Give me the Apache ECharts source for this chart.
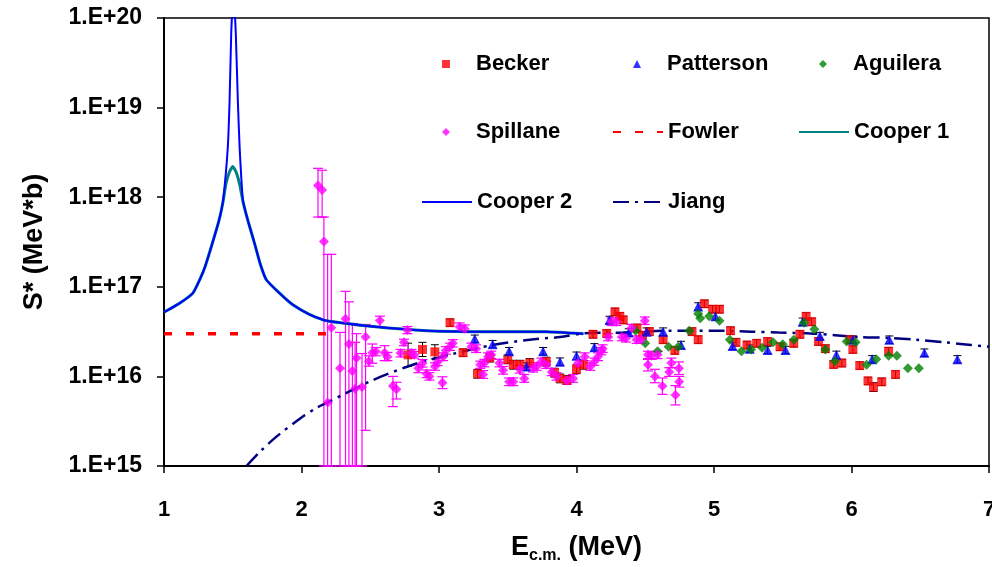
<!DOCTYPE html>
<html><head><meta charset="utf-8">
<script src="https://cdn.jsdelivr.net/npm/echarts@6/dist/echarts.min.js"></script>
<style>html,body{margin:0;padding:0;background:#fff}#c{width:992px;height:567px}</style>
</head><body><div id="c"></div>
<script>
// ---------- data ----------
const xTickValues = [1, 2, 3, 4, 5, 6, 7];
const yDecades = [1e15, 1e16, 1e17, 1e18, 1e19, 1e20];

// [E, S*, error factor]
const becker = [
 [2.775,1.74e16,1.35],[2.88,2.00e16,1.2],[2.97,1.88e16,1.2],[3.08,3.98e16,1.1],[3.175,1.84e16,1.1],
 [3.28,1.07e16,1.12],[3.37,1.62e16,1.12],[3.50,1.55e16,1.12],[3.54,1.35e16,1.12],[3.59,1.35e16,1.12],
 [3.66,1.41e16,1.12],[3.78,1.46e16,1.12],[3.84,1.10e16,1.12],[3.88,9.5e15,1.12],[3.93,9.1e15,1.12],
 [4.00,1.20e16,1.12],[4.05,1.35e16,1.12],[4.12,2.95e16,1.1],[4.22,3.02e16,1.1],[4.28,5.25e16,1.1],
 [4.315,4.68e16,1.1],[4.34,4.27e16,1.1],[4.44,3.47e16,1.1],[4.48,2.88e16,1.1],[4.53,3.16e16,1.1],
 [4.63,2.57e16,1.1],[4.715,1.95e16,1.1],[4.84,3.16e16,1.1],[4.885,2.57e16,1.1],[4.93,6.46e16,1.1],
 [4.99,5.62e16,1.1],[5.04,5.62e16,1.1],[5.12,3.24e16,1.1],[5.16,2.40e16,1.1],[5.24,2.24e16,1.1],
 [5.31,2.34e16,1.1],[5.39,2.45e16,1.1],[5.48,2.14e16,1.1],[5.58,2.34e16,1.1],[5.625,2.95e16,1.1],
 [5.67,4.68e16,1.1],[5.71,4.07e16,1.1],[5.76,2.45e16,1.1],[5.81,2.04e16,1.1],[5.87,1.36e16,1.1],
 [5.93,1.41e16,1.1],[5.99,2.57e16,1.1],[6.01,2.00e16,1.1],[6.06,1.32e16,1.1],[6.12,8.9e15,1.1],
 [6.16,7.6e15,1.12],[6.22,8.7e15,1.1],[6.27,1.91e16,1.1],[6.32,1.05e16,1.1]
];

const patterson = [
 [3.26,2.63e16,1.1],[3.39,2.29e16,1.1],[3.51,1.91e16,1.1],[3.636,1.29e16,1.1],[3.757,1.91e16,1.1],
 [3.88,1.46e16,1.1],[4.00,1.70e16,1.1],[4.13,2.11e16,1.1],[4.24,4.27e16,1.1],[4.38,3.09e16,1.1],
 [4.51,3.16e16,1.1],[4.63,3.16e16,1.1],[4.76,2.24e16,1.1],[4.885,6.03e16,1.1],[5.01,4.68e16,1.1],
 [5.135,2.19e16,1.1],[5.26,2.04e16,1.1],[5.39,1.97e16,1.1],[5.52,1.97e16,1.1],[5.645,4.07e16,1.1],
 [5.77,2.82e16,1.1],[5.89,1.74e16,1.1],[6.01,2.57e16,1.1],[6.15,1.55e16,1.1],[6.275,2.57e16,1.1],
 [6.53,1.84e16,1.1],[6.77,1.55e16,1.1]
];

const aguilera = [
 [4.43,3.24e16],[4.50,2.34e16],[4.59,1.91e16],[4.67,2.14e16],[4.74,2.14e16],[4.82,3.24e16],
 [4.885,5.01e16],[4.90,4.47e16],[4.965,4.68e16],[5.04,4.17e16],[5.115,2.57e16],[5.20,1.91e16],
 [5.27,2.00e16],[5.35,2.09e16],[5.43,2.40e16],[5.50,2.29e16],[5.58,2.57e16],[5.655,3.98e16],
 [5.73,3.35e16],[5.81,2.00e16],[5.88,1.48e16],[5.965,2.45e16],[6.03,2.40e16],[6.11,1.35e16],
 [6.18,1.55e16],[6.27,1.70e16],[6.33,1.70e16],[6.41,1.23e16],[6.49,1.23e16]
];

// [E, S*, lower, upper]  (lower = 1e15 means the bar runs off the bottom of the axis)
const spillane = [
 [2.12,1.35e18,6.0e17,2.1e18],[2.15,1.20e18,6.0e17,2.0e18],[2.163,3.2e17,1e15,6.0e17],
 [2.19,5.1e15,1e15,2.3e17],[2.217,3.5e16,1e15,2.3e17],[2.28,1.23e16,1e15,3.1e16],
 [2.32,4.4e16,1e15,8.9e16],[2.345,2.3e16,1e15,6.8e16],[2.37,1.15e16,1e15,3.9e16],
 [2.39,7.3e15,1e15,2.4e16],[2.40,1.6e16,1e15,3.0e16],[2.44,7.6e15,1e15,1.8e16],
 [2.466,2.75e16,2.5e15,3.8e16],[2.49,1.48e16,1.3e16,1.7e16],[2.515,1.84e16,1.4e16,2.3e16],
 [2.54,1.9e16,1.7e16,2.1e16],[2.57,4.2e16,3.6e16,4.7e16],[2.605,1.84e16,1.5e16,2.2e16],
 [2.625,1.66e16,1.5e16,1.85e16],[2.665,7.8e15,4.6e15,1.0e16],[2.69,7.2e15,5.6e15,8.6e15],
 [2.72,1.82e16,1.65e16,2.0e16],[2.745,2.4e16,2.2e16,2.6e16],[2.77,3.3e16,3.0e16,3.6e16],
 [2.80,1.82e16,1.65e16,2.0e16],[2.82,1.74e16,1.6e16,1.9e16],[2.85,1.23e16,1.1e16,1.35e16],
 [2.88,1.40e16,1.27e16,1.54e16],[2.91,1.07e16,9.7e15,1.18e16],[2.93,1.0e16,9.1e15,1.1e16],
 [2.97,1.29e16,1.17e16,1.42e16],[2.99,1.45e16,1.32e16,1.6e16],[3.025,8.5e15,7.3e15,9.9e15],
 [3.03,1.66e16,1.5e16,1.83e16],[3.05,1.95e16,1.77e16,2.15e16],[3.08,2.14e16,1.95e16,2.35e16],
 [3.10,2.34e16,2.13e16,2.57e16],[3.15,3.59e16,3.26e16,3.95e16],[3.187,3.4e16,3.1e16,3.75e16],
 [3.236,2.14e16,1.95e16,2.35e16],[3.27,2.04e16,1.85e16,2.25e16],[3.30,1.35e16,1.23e16,1.48e16],
 [3.32,1.05e16,9.5e15,1.16e16],[3.33,1.41e16,1.28e16,1.55e16],[3.357,1.66e16,1.5e16,1.83e16],
 [3.38,1.74e16,1.58e16,1.91e16],[3.44,1.41e16,1.28e16,1.55e16],[3.466,1.17e16,1.06e16,1.29e16],
 [3.51,8.7e15,7.9e15,9.6e15],[3.54,8.7e15,7.9e15,9.6e15],[3.587,1.2e16,1.09e16,1.32e16],
 [3.62,9.5e15,8.6e15,1.05e16],[3.684,1.23e16,1.12e16,1.35e16],[3.71,1.29e16,1.17e16,1.42e16],
 [3.745,1.46e16,1.33e16,1.6e16],[3.78,1.35e16,1.23e16,1.48e16],[3.82,1.12e16,1.02e16,1.23e16],
 [3.855,1.0e16,9.1e15,1.1e16],[3.93,9.0e15,8.2e15,9.9e15],[3.975,9.5e15,8.6e15,1.05e16],
 [4.01,1.40e16,1.27e16,1.54e16],[4.06,1.66e16,1.5e16,1.83e16],[4.10,1.29e16,1.17e16,1.42e16],
 [4.13,1.46e16,1.33e16,1.6e16],[4.157,1.66e16,1.5e16,1.83e16],[4.18,1.91e16,1.74e16,2.1e16],
 [4.19,2.04e16,1.85e16,2.25e16],[4.23,2.75e16,2.5e16,3.0e16],[4.255,4.07e16,3.7e16,4.5e16],
 [4.29,4.07e16,3.7e16,4.5e16],[4.33,2.75e16,2.5e16,3.0e16],[4.36,2.66e16,2.42e16,2.93e16],
 [4.40,3.47e16,3.15e16,3.8e16],[4.437,2.57e16,2.34e16,2.83e16],[4.47,2.57e16,2.34e16,2.83e16],
 [4.497,4.17e16,3.8e16,4.6e16],[4.52,1.74e16,1.58e16,1.91e16],[4.546,1.70e16,1.55e16,1.87e16],
 [4.52,1.35e16,1.15e16,1.55e16],[4.57,1.0e16,8.5e15,1.2e16],[4.59,1.74e16,1.58e16,1.91e16],
 [4.625,7.8e15,6.3e15,9.6e15],[4.674,1.12e16,1.0e16,1.25e16],[4.69,1.41e16,1.25e16,1.6e16],
 [4.72,6.2e15,4.8e15,7.9e15],[4.745,1.23e16,1.05e16,1.45e16],[4.747,8.7e15,7.6e15,1.0e16]
];

const fowler = [[1.0,3.0e16],[2.2,3.0e16]];

const cooper1 = [
 [1.00,5.2e16],[1.11,6.5e16],[1.21,8.5e16],[1.26,1.2e17],[1.30,1.7e17],[1.35,3.0e17],[1.40,5.5e17],
 [1.43,9.0e17],[1.45,1.4e18],[1.475,1.9e18],[1.50,2.2e18],[1.525,1.9e18],[1.55,1.4e18],[1.574,9.0e17],
 [1.61,5.5e17],[1.66,3.0e17],[1.70,1.8e17],[1.744,1.2e17],[1.84,8.5e16],[1.937,6.3e16],[2.06,4.9e16],
 [2.175,4.2e16],[2.52,3.6e16],[2.91,3.24e16],[3.39,3.16e16],[3.78,3.16e16],[4.05,3.0e16]
];

const cooper2 = [
 [1.00,5.2e16],[1.11,6.5e16],[1.21,8.5e16],[1.26,1.2e17],[1.30,1.7e17],[1.35,3.0e17],[1.40,5.5e17],
 [1.43,9.3e17],[1.464,3.6e18],[1.477,1.2e19],[1.489,6.8e19],[1.505,2.0e20],[1.522,6.8e19],
 [1.537,1.2e19],[1.55,3.6e18],[1.574,9.3e17],[1.61,5.5e17],[1.66,3.0e17],[1.70,1.8e17],
 [1.744,1.2e17],[1.84,8.5e16],[1.937,6.3e16],[2.06,4.9e16],[2.175,4.2e16],[2.52,3.6e16],
 [2.91,3.24e16],[3.39,3.16e16],[3.78,3.16e16],[4.05,3.0e16]
];

const jiang = [
 [1.60,1.0e15],[1.70,1.45e15],[1.82,2.14e15],[1.99,3.39e15],[2.10,4.37e15],[2.19,5.13e15],
 [2.52,9.1e15],[2.81,1.35e16],[3.10,1.78e16],[3.39,2.24e16],[3.66,2.57e16],[3.88,2.75e16],
 [4.05,3.02e16],[4.34,3.09e16],[4.68,3.24e16],[5.02,3.24e16],[5.27,3.16e16],[5.47,3.09e16],
 [5.70,3.02e16],[5.88,2.88e16],[6.06,2.75e16],[6.27,2.69e16],[6.47,2.57e16],[6.68,2.40e16],
 [6.87,2.24e16],[7.0,2.14e16]
];

// ---------- chart ----------
const FONT = '"Liberation Sans", Arial, sans-serif';
const chart = echarts.init(document.getElementById('c'), null, {renderer: 'canvas'});

function errorBars(color, capHalf, lw) {
  return function (params, api) {
    const x = api.value(0), lo = api.value(1), hi = api.value(2);
    const pHi = api.coord([x, hi]);
    const pLo = api.coord([x, lo]);
    const st = {stroke: color, lineWidth: lw};
    return {type: 'group', children: [
      {type: 'line', shape: {x1: pHi[0], y1: pHi[1], x2: pLo[0], y2: pLo[1]}, style: st},
      {type: 'line', shape: {x1: pHi[0] - capHalf, y1: pHi[1], x2: pHi[0] + capHalf, y2: pHi[1]}, style: st},
      {type: 'line', shape: {x1: pLo[0] - capHalf, y1: pLo[1], x2: pLo[0] + capHalf, y2: pLo[1]}, style: st}
    ]};
  };
}
const factorBars = arr => arr.map(d => [d[0], d[1] / d[2], d[1] * d[2]]);
const rangeBars = arr => arr.map(d => [d[0], d[2], d[3]]);

const ICON_SQUARE = 'path://M0,0L10,0L10,10L0,10Z';
const ICON_TRIANGLE = 'path://M5,0L10,10L0,10Z';
const ICON_DIAMOND = 'path://M5,0L10,5L5,10L0,5Z';
const HIDE_DOT = {color: 'rgba(0,0,0,0)', borderColor: 'rgba(0,0,0,0)', borderWidth: 0};

const legendBase = {
  padding: 0, itemWidth: 50, itemHeight: 8, itemGap: 0, selectedMode: false, symbolKeepAspect: true,
  textStyle: {fontFamily: FONT, fontWeight: 'bold', fontSize: 22, color: '#000'}
};
// [name, left, top, icon or null for a line item]; marker icons only occupy the centre of the 50px slot
const legendItems = [
  ['Becker', 442, 53, ICON_SQUARE], ['Patterson', 633, 53, ICON_TRIANGLE], ['Aguilera', 819, 53, ICON_DIAMOND],
  ['Spillane', 442, 121, ICON_DIAMOND], ['Fowler', 612, 121, null], ['Cooper 1', 798, 121, null],
  ['Cooper 2', 421, 191, null], ['Jiang', 612, 191, null]
];

const option = {
  backgroundColor: '#fff',
  animation: false,
  grid: {left: 164, right: 3, top: 18, bottom: 101, show: true, borderColor: '#000', borderWidth: 1.5,
    containLabel: false, outerBoundsMode: 'none'},
  legend: legendItems.map(([name, left, top, icon]) => Object.assign({}, legendBase, {
    data: [icon ? {name: name, icon: icon} : {name: name}], left: left, top: top
  }, icon ? {} : {itemStyle: HIDE_DOT})),
  xAxis: {
    type: 'value', min: 1, max: 7, interval: 1,
    name: '{e|E}{s|c.m.}{e| (MeV)}', nameLocation: 'middle', nameGap: 68,
    nameTextStyle: {
      rich: {
        e: {fontFamily: FONT, fontWeight: 'bold', fontSize: 27, color: '#000', verticalAlign: 'top'},
        s: {fontFamily: FONT, fontWeight: 'bold', fontSize: 16, color: '#000', verticalAlign: 'bottom', padding: [14, 0, 0, 0]}
      }
    },
    axisLine: {show: true, onZero: false, lineStyle: {color: '#000', width: 2}},
    axisTick: {show: true, inside: false, length: 7, lineStyle: {color: '#000', width: 1.5}},
    axisLabel: {fontFamily: FONT, fontWeight: 'bold', fontSize: 22, color: '#000', margin: 33,
      formatter: v => xTickValues.indexOf(v) >= 0 ? String(v) : ''},
    splitLine: {show: false}
  },
  yAxis: {
    type: 'log', logBase: 10, min: yDecades[0], max: yDecades[yDecades.length - 1],
    name: 'S* (MeV*b)', nameLocation: 'middle', nameGap: 116, nameRotate: 90,
    nameTextStyle: {fontFamily: FONT, fontWeight: 'bold', fontSize: 27, color: '#000'},
    axisLine: {show: true, onZero: false, lineStyle: {color: '#000', width: 2}},
    axisTick: {show: true, inside: false, length: 7, lineStyle: {color: '#000', width: 1.5}},
    axisLabel: {fontFamily: FONT, fontWeight: 'bold', fontSize: 23, color: '#000', margin: 22,
      formatter: v => '1.E+' + Math.round(Math.log10(v))},
    splitLine: {show: false},
    minorTick: {show: false}
  },
  series: [
    {name: 'Becker', type: 'scatter', data: becker, symbol: 'rect', symbolSize: 9,
      itemStyle: {color: '#FF0000'}, z: 5},
    {name: 'Patterson', type: 'scatter', data: patterson, symbol: 'triangle', symbolSize: 10,
      itemStyle: {color: '#0000FF'}, z: 5},
    {name: 'Aguilera', type: 'scatter', data: aguilera, symbol: 'diamond', symbolSize: 10,
      itemStyle: {color: '#008000'}, z: 5},
    {name: 'Spillane', type: 'scatter', data: spillane, symbol: 'diamond', symbolSize: 10,
      itemStyle: {color: '#FF00FF'}, z: 5},
    {name: 'Fowler', type: 'line', data: fowler, symbol: 'none', z: 3,
      lineStyle: {color: '#FF0000', width: 3.5, type: [8, 14]}, itemStyle: {color: '#FF0000'}},
    {name: 'Cooper 1', type: 'line', data: cooper1, symbol: 'none', smooth: 0.15, z: 3,
      lineStyle: {color: '#008080', width: 3}, itemStyle: {color: '#008080'}},
    {name: 'Cooper 2', type: 'line', data: cooper2, symbol: 'none', smooth: 0.15, z: 4,
      lineStyle: {color: '#0000FF', width: 2}, itemStyle: {color: '#0000FF'}},
    {name: 'Jiang', type: 'line', data: jiang, symbol: 'none', smooth: 0.3, z: 3,
      lineStyle: {color: '#000080', width: 2.5, type: [16, 6, 3, 6]}, itemStyle: {color: '#000080'}},
    {type: 'custom', data: factorBars(becker), renderItem: errorBars('#000', 4, 1), z: 2, silent: true},
    {type: 'custom', data: factorBars(patterson), renderItem: errorBars('#000', 4, 1), z: 2, silent: true},
    {type: 'custom', data: rangeBars(spillane), renderItem: errorBars('#FF00FF', 5, 1.2), z: 2, silent: true}
  ]
};
chart.setOption(option);
</script>
</body></html>
